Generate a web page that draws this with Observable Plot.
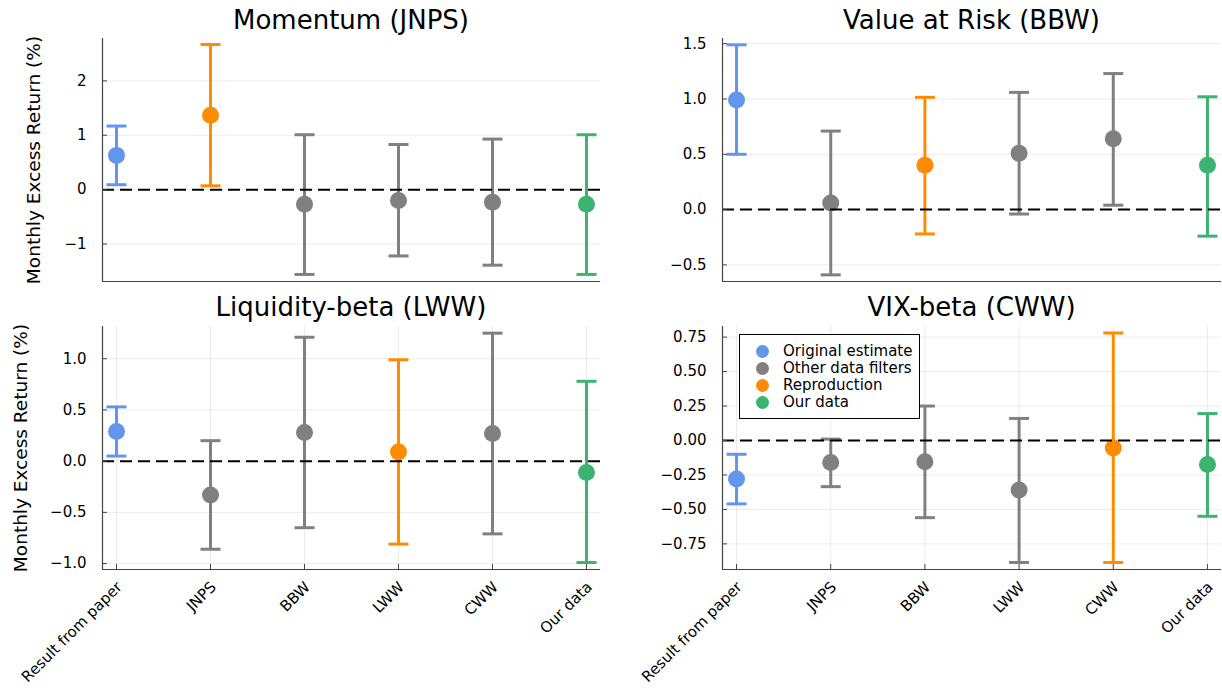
<!DOCTYPE html>
<html><head><meta charset="utf-8">
<script src="https://cdn.jsdelivr.net/npm/d3@7"></script>
<script src="https://cdn.jsdelivr.net/npm/@observablehq/plot@0.6"></script>
<style>
body{margin:0;background:#fff;}
#fig{position:relative;width:1222px;height:690px;font-family:"DejaVu Sans",sans-serif;overflow:hidden;background:#fff;}
.panel{position:absolute;}
.title{position:absolute;font-size:26px;line-height:26px;text-align:center;color:#000;white-space:nowrap;}
.legend{position:absolute;left:739px;top:334px;width:179px;height:83px;border:1px solid #000;background:#fff;font-size:15px;color:#000;}
.legend .item{position:absolute;left:0;height:17px;line-height:17px;white-space:nowrap;}
.legend .sw{position:absolute;left:16px;top:2px;width:13px;height:13px;border-radius:50%;}
.legend .lb{position:absolute;left:43px;top:0;}
</style></head><body><div id="fig"></div>
<script>
// ---- data ----
const categories = ["Result from paper", "JNPS", "BBW", "LWW", "CWW", "Our data"];
const titles = ["Momentum (JNPS)", "Value at Risk (BBW)", "Liquidity-beta (LWW)", "VIX-beta (CWW)"];
const yLabel = "Monthly Excess Return (%)";
const roles = ["Original estimate", "Other data filters", "Reproduction", "Our data"];
const roleColors = ["#6495ED", "#808080", "#FF8C00", "#3CB371"];
const reproductionIndex = [1, 2, 3, 4];

const momentumEst = [0.63, 1.37, -0.27, -0.20, -0.23, -0.27];
const momentumLo  = [0.09, 0.07, -1.56, -1.22, -1.39, -1.56];
const momentumHi  = [1.17, 2.67, 1.01, 0.83, 0.93, 1.01];

const varEst = [0.99, 0.06, 0.40, 0.51, 0.64, 0.40];
const varLo  = [0.50, -0.59, -0.22, -0.04, 0.04, -0.24];
const varHi  = [1.49, 0.71, 1.015, 1.06, 1.23, 1.02];

const liqEst = [0.29, -0.33, 0.28, 0.09, 0.27, -0.11];
const liqLo  = [0.05, -0.86, -0.65, -0.81, -0.71, -0.99];
const liqHi  = [0.53, 0.20, 1.21, 0.99, 1.25, 0.78];

const vixEst = [-0.28, -0.16, -0.155, -0.36, -0.055, -0.175];
const vixLo  = [-0.46, -0.335, -0.56, -0.885, -0.885, -0.55];
const vixHi  = [-0.10, 0.01, 0.25, 0.16, 0.78, 0.195];

const momentumTicks = [-1, 0, 1, 2];
const varTicks = [-0.5, 0, 0.5, 1.0, 1.5];
const liqTicks = [-1.0, -0.5, 0, 0.5, 1.0];
const vixTicks = [-0.75, -0.5, -0.25, 0, 0.25, 0.5, 0.75];
const tickFormats = ["d", ".1f", ".1f", ".2f"];

const momentumDomain = [-1.69, 2.78];
const varDomain = [-0.65, 1.547];
const liqDomain = [-1.058, 1.315];
const vixDomain = [-0.936, 0.827];
const xDomain = [0.851, 6.149];

const ests = [momentumEst, varEst, liqEst, vixEst];
const los = [momentumLo, varLo, liqLo, vixLo];
const his = [momentumHi, varHi, liqHi, vixHi];
const ticksAll = [momentumTicks, varTicks, liqTicks, vixTicks];
const domains = [momentumDomain, varDomain, liqDomain, vixDomain];

// ---- layout ----
const layout = [
  {left: 0,   top: 30,  width: 611, height: 260, mt: 8, mb: 9,   ml: 102, mr: 11, bottom: false, ylab: true, labDx: -76, titleTop: 7},
  {left: 611, top: 30,  width: 611, height: 260, mt: 8, mb: 9,   ml: 111, mr: 1,  bottom: false, ylab: false, titleTop: 7},
  {left: 0,   top: 318, width: 611, height: 372, mt: 8, mb: 121, ml: 102, mr: 11, bottom: true,  ylab: true, labDx: -89, titleTop: 294},
  {left: 611, top: 318, width: 611, height: 372, mt: 8, mb: 121, ml: 111, mr: 1,  bottom: true,  ylab: false, titleTop: 294}
];

const capSymbol = {draw(context, size) { const w = Math.sqrt(size / Math.PI); context.moveTo(-w, 0); context.lineTo(w, 0); }};

function roleOf(p, i) {
  if (i === 0) return 0;
  if (i === categories.length - 1) return 3;
  if (i === reproductionIndex[p]) return 2;
  return 1;
}

const fig = document.getElementById("fig");
const xTicks = categories.map((c, i) => i + 1);

layout.forEach((L, p) => {
  const rows = categories.map((c, i) => ({x: i + 1, cat: c, est: ests[p][i], lo: los[p][i], hi: his[p][i], color: roleColors[roleOf(p, i)]}));
  const yt = ticksAll[p];
  const dom = domains[p];
  const marks = [
    Plot.gridY(yt, {stroke: "#000", strokeOpacity: 0.08, strokeWidth: 1}),
    L.bottom ? Plot.gridX(xTicks, {stroke: "#000", strokeOpacity: 0.08, strokeWidth: 1}) : null,
    Plot.ruleX(rows, {x: "x", y1: "lo", y2: "hi", stroke: "color", strokeWidth: 3}),
    Plot.dot(rows, {x: "x", y: "lo", symbol: capSymbol, r: 10, stroke: "color", strokeWidth: 3, fill: "none"}),
    Plot.dot(rows, {x: "x", y: "hi", symbol: capSymbol, r: 10, stroke: "color", strokeWidth: 3, fill: "none"}),
    Plot.dot(rows, {x: "x", y: "est", r: 8.5, fill: "color", stroke: null}),
    Plot.ruleY([0], {stroke: "#000", strokeWidth: 2, strokeDasharray: "12,6"}),
    Plot.ruleY([dom[0]], {stroke: "#444", strokeWidth: 1.2}),
    Plot.ruleX([xDomain[0]], {stroke: "#444", strokeWidth: 1.2}),
    Plot.axisY(yt, {tickSize: -5, tickPadding: 21, tickFormat: d3.format(tickFormats[p]), fontSize: 15, label: null, stroke: "#444"}),
    L.bottom ? Plot.axisX(xTicks, {tickSize: -5, tickFormat: () => "", label: null, stroke: "#444"}) : null,
    L.bottom ? Plot.text(rows, {x: "x", text: "cat", frameAnchor: "bottom", rotate: -45, textAnchor: "end", lineAnchor: "middle", dx: 3, dy: 15, fontSize: 15, fill: "#000"}) : null,
    L.ylab ? Plot.text([yLabel], {text: d => d, frameAnchor: "left", rotate: -90, textAnchor: "middle", lineAnchor: "top", dx: L.labDx, fontSize: 18.5, fill: "#000"}) : null
  ].filter(Boolean);
  const svg = Plot.plot({
    width: L.width, height: L.height,
    marginTop: L.mt, marginBottom: L.mb, marginLeft: L.ml, marginRight: L.mr,
    x: {type: "linear", domain: xDomain, axis: null},
    y: {type: "linear", domain: dom, axis: null},
    style: {background: "transparent", fontFamily: "DejaVu Sans", overflow: "visible", color: "#000"},
    marks
  });
  const div = document.createElement("div");
  div.className = "panel";
  div.style.left = L.left + "px"; div.style.top = L.top + "px";
  div.appendChild(svg);
  fig.appendChild(div);

  const t = document.createElement("div");
  t.className = "title";
  t.style.left = (L.left + L.ml) + "px";
  t.style.width = (L.width - L.ml - L.mr) + "px";
  t.style.top = L.titleTop + "px";
  t.textContent = titles[p];
  fig.appendChild(t);
});

// legend (inside the bottom-right panel)
const leg = document.createElement("div");
leg.className = "legend";
roles.forEach((r, i) => {
  const it = document.createElement("div");
  it.className = "item";
  it.style.top = (8 + i * 17) + "px";
  const sw = document.createElement("span"); sw.className = "sw"; sw.style.background = roleColors[i];
  const lb = document.createElement("span"); lb.className = "lb"; lb.textContent = r;
  it.appendChild(sw); it.appendChild(lb);
  leg.appendChild(it);
});
fig.appendChild(leg);
</script>
</body></html>
